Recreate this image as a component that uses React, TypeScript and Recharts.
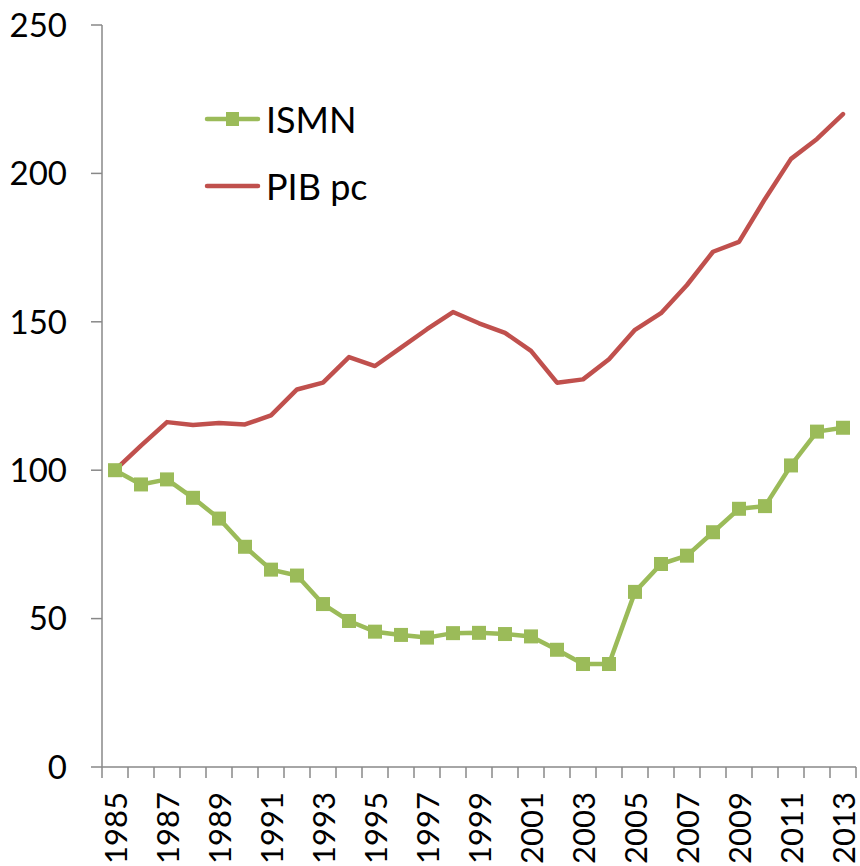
import React from 'react';
import { LineChart, Line, XAxis, YAxis, Legend } from 'recharts';

const years = [1985, 1986, 1987, 1988, 1989, 1990, 1991, 1992, 1993, 1994, 1995, 1996, 1997, 1998, 1999, 2000, 2001, 2002, 2003, 2004, 2005, 2006, 2007, 2008, 2009, 2010, 2011, 2012, 2013];
const ismn = [100, 95.2, 96.9, 90.7, 83.7, 74.2, 66.5, 64.5, 54.9, 49.2, 45.6, 44.5, 43.6, 45.1, 45.2, 44.8, 44.0, 39.5, 34.7, 34.7, 59.0, 68.4, 71.2, 79.1, 87.0, 87.9, 101.6, 113.0, 114.3];
const pib = [100, 108.3, 116.2, 115.2, 115.9, 115.4, 118.5, 127.2, 129.5, 138.1, 135.1, 141.3, 147.5, 153.3, 149.5, 146.3, 140.2, 129.5, 130.6, 137.4, 147.3, 152.9, 162.4, 173.6, 176.9, 191.4, 204.9, 211.6, 220.0];
const labelYears = [1985, 1987, 1989, 1991, 1993, 1995, 1997, 1999, 2001, 2003, 2005, 2007, 2009, 2011, 2013];
const yTicks = [0, 50, 100, 150, 200, 250];

const data = years.map((year, i) => ({ year, ismn: ismn[i], pib: pib[i] }));
const boundaries = [...years.map((y) => y - 0.5), years[years.length - 1] + 0.5];
const xTicks = [...boundaries, ...labelYears].sort((a, b) => a - b);

const FONT = 'Lato, "Liberation Sans", sans-serif';
const AXIS = '#888888';
const GREEN = '#9BBB59';
const RED = '#C0504D';

const XTick = (props: any) => {
  const { x, y, payload } = props;
  const v = payload.value;
  if (!Number.isInteger(v)) {
    return <line x1={x} y1={y} x2={x} y2={y + 11} stroke={AXIS} strokeWidth={1.5} />;
  }
  if (labelYears.includes(v)) {
    const ty = y + 25;
    return (
      <text
        x={x}
        y={ty}
        transform={`rotate(-90, ${x}, ${ty})`}
        textAnchor="end"
        dominantBaseline="central"
        fontSize={31}
        fontFamily={FONT}
        fill="#000"
      >
        {v}
      </text>
    );
  }
  return <g />;
};

const SquareDot = (props: any) => {
  const { cx, cy, index } = props;
  if (cx == null || cy == null) return <g key={`d-${index}`} />;
  return <rect key={`d-${index}`} x={cx - 7} y={cy - 7} width={14} height={14} fill={GREEN} />;
};

const renderLegend = (props: any) => {
  const payload = props.payload || [];
  return (
    <svg width={230} height={150} style={{ display: 'block', overflow: 'visible' }}>
      {payload.map((e: any, i: number) => {
        const cy = 39 + i * 67;
        return (
          <g key={e.value}>
            <line x1={2} x2={53} y1={cy} y2={cy} stroke={e.color} strokeWidth={4.5} strokeLinecap="round" />
            {e.dataKey === 'ismn' && <rect x={21} y={cy - 7} width={13} height={14} fill={e.color} />}
            <text x={61} y={cy + 13.5} fontSize={36} fontFamily={FONT} fill="#000">
              {e.value}
            </text>
          </g>
        );
      })}
    </svg>
  );
};

export default function App() {
  return (
    <div style={{ position: 'absolute', left: 0, top: 0, width: 860, height: 866, background: '#fff' }}>
      <LineChart width={860} height={866} data={data} margin={{ top: 25, right: 4, left: 0, bottom: 0 }}>
        <XAxis
          dataKey="year"
          type="number"
          domain={[1984.5, 2013.5]}
          ticks={xTicks}
          interval={0}
          allowDataOverflow
          height={99}
          tickSize={0}
          tickMargin={0}
          tickLine={false}
          tick={<XTick />}
          axisLine={{ stroke: AXIS, strokeWidth: 1.5 }}
        />
        <YAxis
          domain={[0, 250]}
          ticks={yTicks}
          interval={0}
          width={102}
          tickSize={11}
          tickMargin={24}
          tickLine={{ stroke: AXIS, strokeWidth: 1.5 }}
          axisLine={{ stroke: AXIS, strokeWidth: 1.5 }}
          tick={{ fontSize: 33, fontFamily: FONT, fill: '#000' }}
        />
        <Legend
          layout="vertical"
          align="center"
          verticalAlign="middle"
          wrapperStyle={{ left: 205, top: 80, width: 230, height: 150 }}
          content={renderLegend}
        />
        <Line
          type="linear"
          dataKey="ismn"
          name="ISMN"
          stroke={GREEN}
          strokeWidth={4.5}
          strokeLinejoin="round"
          dot={<SquareDot />}
          activeDot={false}
          isAnimationActive={false}
        />
        <Line
          type="linear"
          dataKey="pib"
          name="PIB pc"
          stroke={RED}
          strokeWidth={4.5}
          strokeLinejoin="round"
          strokeLinecap="round"
          dot={false}
          activeDot={false}
          isAnimationActive={false}
        />
      </LineChart>
    </div>
  );
}
